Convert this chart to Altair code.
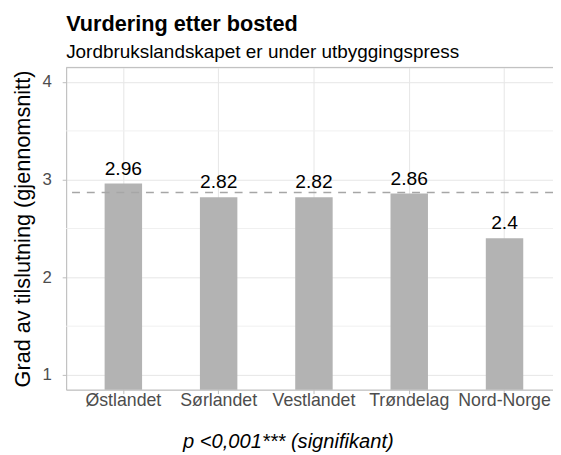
import altair as alt
import pandas as pd

regions = ["Østlandet", "Sørlandet", "Vestlandet", "Trøndelag", "Nord-Norge"]
values = [2.96, 2.82, 2.82, 2.86, 2.40]
overall_mean = [2.87]
major_ticks = [1, 2, 3, 4]
minor_ticks = [1.5, 2.5, 3.5]

df = pd.DataFrame({"region": regions, "value": values})
mean_df = pd.DataFrame({"mean": overall_mean})
minor_df = pd.DataFrame({"m": minor_ticks})

FONT = "Liberation Sans"
W, H = 494, 327
ydom = [0.85, 4.15]

x_scale = alt.Scale(paddingInner=0.607, paddingOuter=0.358, align=0.564)
x_axis = alt.Axis(
    title="p <0,001*** (signifikant)",
    titleFont=FONT, titleFontSize=20.4, titleFontStyle="italic",
    titleFontWeight="normal", titleColor="black",
    titleX=225, titleY=59, titleAlign="center", titleBaseline="alphabetic",
    labelFont=FONT, labelFontSize=18, labelColor="#4d4d4d",
    labelAngle=0, labelBaseline="alphabetic", labelPadding=12.5,
    tickSize=4, tickColor="#bdbdbd", domainColor="#bdbdbd",
    grid=True, gridColor="#e6e6e6", gridWidth=1, bandPosition=0.5,
)

y_scale = alt.Scale(domain=ydom, zero=False, nice=False)
y_axis = alt.Axis(
    values=major_ticks,
    format="d",
    title="Grad av tilslutning (gjennomsnitt)",
    titleFont=FONT, titleFontSize=22, titleFontWeight="normal",
    titleColor="black", titleX=-37, titleBaseline="alphabetic",
    labelFont=FONT, labelFontSize=17, labelColor="#4d4d4d",
    labelPadding=11,
    tickSize=4, tickColor="#bdbdbd", domainColor="#bdbdbd",
    grid=True, gridColor="#e6e6e6", gridWidth=1,
)


def X(field):
    return alt.X(field, type="nominal", sort=regions, scale=x_scale, axis=x_axis)


def Y(field):
    return alt.Y(field, type="quantitative", scale=y_scale, axis=y_axis)


minor = alt.Chart(minor_df).mark_rule(color="#f0f0f0", strokeWidth=1).encode(
    y=Y("m")
)

bars = alt.Chart(df).mark_bar(color="#b3b3b3", clip=True).encode(
    x=X("region"),
    y=Y("value"),
    y2=alt.datum(0),
)

mean_line = alt.Chart(mean_df).mark_rule(
    color="#a6a6a6", strokeWidth=1.5, strokeDash=[8, 7]
).encode(y=Y("mean"))

labels = alt.Chart(df).mark_text(
    font=FONT, fontSize=19.5, color="black", baseline="alphabetic", dy=-9
).encode(
    x=X("region"),
    y=Y("value"),
    text=alt.Text("value:Q", format=".3~g"),
)

top_border = alt.Chart(mean_df).mark_rule(color="#bdbdbd", strokeWidth=1).encode(
    x=alt.value(0), x2=alt.value(W), y=alt.value(0)
)

chart = alt.layer(minor, bars, mean_line, labels, top_border).properties(
    width=W,
    height=H,
    title=alt.TitleParams(
        text="Vurdering etter bosted",
        subtitle="Jordbrukslandskapet er under utbyggingspress",
        anchor="start", frame="group",
        font=FONT, fontSize=22, fontWeight="bold", color="black",
        subtitleFont=FONT, subtitleFontSize=19.2, subtitleColor="black",
        subtitlePadding=7, offset=4,
    ),
    autosize=alt.AutoSizeParams(type="none"),
    padding={"left": 59, "top": 57, "right": 0, "bottom": 63},
).configure_view(stroke=None).configure(background="white")

chart.save("out.html", embed_options={"renderer": "svg", "actions": False})
